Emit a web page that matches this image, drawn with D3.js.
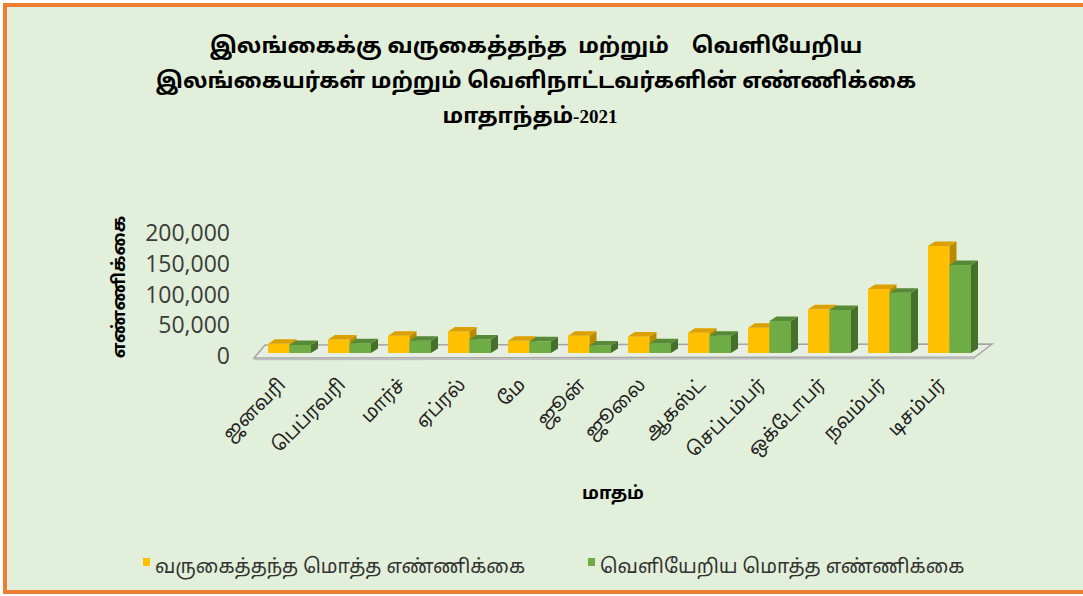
<!DOCTYPE html>
<html>
<head>
<meta charset="utf-8">
<script src="https://cdnjs.cloudflare.com/ajax/libs/d3/7.8.5/d3.min.js"></script>
<style>
  html, body { margin: 0; background: #e2efda; overflow: hidden; }
  svg { display: block; }
  .ta { font-family: "Noto Sans Tamil", "Lohit Tamil", "Latha", "Noto Sans", sans-serif; }
</style>
</head>
<body>
<svg id="chart" width="1083" height="596"></svg>
<script>
let months = ['ஜனவரி','பெப்ரவரி','மார்ச்','ஏப்ரல்','மே','ஜூன்','ஜூலை','ஆகஸ்ட்','செப்டம்பர்','ஒக்டோபர்','நவம்பர்','டிசம்பர்'];
let arrivals   = [15000, 22000, 28000, 35000, 20000, 28000, 27000, 33000, 41000, 71000, 104000, 174000];
let departures = [13000, 16000, 20000, 22000, 19000, 12000, 16000, 28000, 52000, 70000, 98000, 143000];
let seriesNames = ['வருகைத்தந்த மொத்த எண்ணிக்கை', 'வெளியேறிய மொத்த எண்ணிக்கை'];
let yTicks = [0, 50000, 100000, 150000, 200000];
let titleLines = ['இலங்கைக்கு வருகைத்தந்த  மற்றும்    வெளியேறிய', 'இலங்கையர்கள் மற்றும் வெளிநாட்டவர்களின் எண்ணிக்கை'];

let colors = [
  {front: '#ffc000', side: '#b98c00', top: '#dca000'},
  {front: '#6fac46', side: '#44702a', top: '#578a36'}
];

let svg = d3.select('#chart');
let base = 353;
let depth = {dx: 7, dy: -4.5};

let xScale = d3.scaleBand().domain(months).range([259.5, 979.5]);
let xInner = d3.scaleBand().domain([0, 1]).range([8.5, 51.5]);
let yScale = d3.scaleLinear().domain([0, 200000]).range([base, 230]);

// background + frame (right edge runs off the picture)
svg.append('rect')
   .attr('x', 0).attr('y', 0).attr('width', 1083).attr('height', 596)
   .attr('fill', '#ffffff');
svg.append('rect')
   .attr('x', 5).attr('y', 5).attr('width', 1300).attr('height', 587)
   .attr('fill', '#e2efda')
   .attr('stroke', '#ed7d31')
   .attr('stroke-width', 4);

// title
svg.append('g').selectAll('text')
   .data(titleLines).enter()
   .append('text')
   .attr('class', 'ta')
   .attr('x', 536)
   .attr('y', (d, i) => 53 + i * 35)
   .attr('text-anchor', 'middle')
   .attr('font-size', '22px')
   .attr('font-weight', 'bold')
   .attr('fill', '#000')
   .style('white-space', 'pre')
   .text(d => d);
let t3 = svg.append('text')
   .attr('class', 'ta')
   .attr('x', 530)
   .attr('y', 123)
   .attr('text-anchor', 'middle')
   .attr('font-size', '22px')
   .attr('font-weight', 'bold');
t3.append('tspan').text('மாதாந்தம்');
t3.append('tspan')
   .attr('font-family', 'Liberation Serif, serif')
   .attr('font-size', '19px')
   .text('-2021');

// y axis labels
svg.append('g').selectAll('text')
   .data(yTicks).enter()
   .append('text')
   .attr('x', 230)
   .attr('y', d => yScale(d) + 11)
   .attr('text-anchor', 'end')
   .attr('font-family', 'Open Sans, sans-serif')
   .attr('font-size', '23px')
   .attr('fill', '#3b3b3b')
   .text(d => d3.format(',')(d));

svg.append('text')
   .attr('class', 'ta')
   .attr('transform', 'translate(125,287) rotate(-90)')
   .attr('text-anchor', 'middle')
   .attr('font-size', '18px')
   .attr('font-weight', 'bold')
   .text('எண்ணிக்கை');

// floor
let r = xScale.range();
let floorPts = [[r[0] - 5.5, base + 5], [r[1] - 4.5, base + 4], [r[1] + 12.5, base - 9], [r[0] + 5.5, base - 8]];
svg.append('path')
   .attr('d', 'M' + floorPts.join('L') + 'Z')
   .attr('fill', '#e7efe2')
   .attr('stroke', '#a6a6a6')
   .attr('stroke-width', 1.5);
svg.append('line')
   .attr('x1', floorPts[0][0]).attr('y1', floorPts[0][1] + 1.5)
   .attr('x2', floorPts[1][0]).attr('y2', floorPts[1][1] + 1.5)
   .attr('stroke', '#bdbdbd')
   .attr('stroke-width', 1.5);

// bars
let bars = [];
months.forEach((m, i) => {
  bars.push({month: m, s: 0, v: arrivals[i]});
  bars.push({month: m, s: 1, v: departures[i]});
});

let g = svg.append('g').selectAll('g')
   .data(bars).enter()
   .append('g');

let bw = xInner.bandwidth();
g.append('rect')
   .attr('x', d => xScale(d.month) + xInner(d.s))
   .attr('y', d => yScale(d.v))
   .attr('width', bw)
   .attr('height', d => base - yScale(d.v))
   .attr('fill', d => colors[d.s].front);
g.append('path')
   .attr('d', d => {
     let x = xScale(d.month) + xInner(d.s) + bw, y = yScale(d.v);
     return `M${x},${y}L${x + depth.dx},${y + depth.dy}L${x + depth.dx},${base + depth.dy}L${x},${base}Z`;
   })
   .attr('fill', d => colors[d.s].side);
g.append('path')
   .attr('d', d => {
     let x = xScale(d.month) + xInner(d.s), y = yScale(d.v);
     return `M${x},${y}L${x + depth.dx},${y + depth.dy}L${x + bw + depth.dx},${y + depth.dy}L${x + bw},${y}Z`;
   })
   .attr('fill', d => colors[d.s].top);

// x labels
svg.append('g').selectAll('text')
   .data(months).enter()
   .append('text')
   .attr('class', 'ta')
   .attr('transform', d => `translate(${xScale(d) + xScale.bandwidth() / 2 - 3},${386}) rotate(-45)`)
   .attr('text-anchor', 'end')
   .attr('font-size', '19px')
   .attr('fill', '#222')
   .text(d => d);

svg.append('text')
   .attr('class', 'ta')
   .attr('x', 613)
   .attr('y', 499)
   .attr('text-anchor', 'middle')
   .attr('font-size', '18px')
   .attr('font-weight', 'bold')
   .text('மாதம்');

// legend
let legendX = [143, 588];
let leg = svg.append('g').selectAll('g')
   .data(seriesNames).enter()
   .append('g')
   .attr('transform', (d, i) => `translate(${legendX[i]},558)`);
leg.append('rect')
   .attr('width', 7).attr('height', 8)
   .attr('fill', (d, i) => colors[i].front);
leg.append('text')
   .attr('class', 'ta')
   .attr('x', 12)
   .attr('y', 15)
   .attr('font-size', '19.5px')
   .attr('fill', '#333')
   .text(d => d);
</script>
</body>
</html>
